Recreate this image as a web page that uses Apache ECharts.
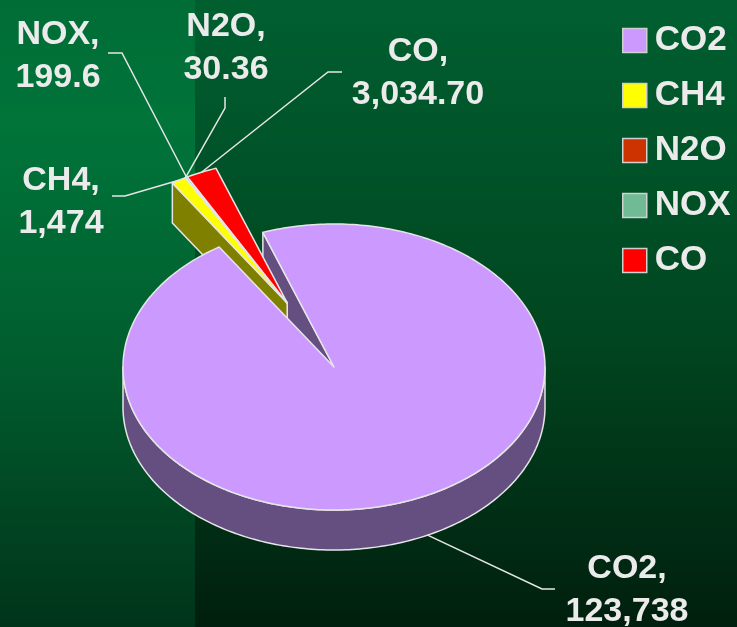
<!DOCTYPE html>
<html><head><meta charset="utf-8">
<script src="https://cdn.jsdelivr.net/npm/echarts@6/dist/echarts.min.js"></script>
<style>
html,body{margin:0;padding:0;background:#002a14;}
#c{width:737px;height:627px;
background:
 linear-gradient(to bottom,#006d36 0%,#00743a 20%,#005f2f 55%,#00341a 100%) 0 0/195px 100% no-repeat,
 linear-gradient(to bottom,#005f30 0%,#00451f 55%,#001f0e 100%);}
</style>
</head><body><div id="c"></div>
<script>
// ---- data ----
const categories = ['CO2', 'CH4', 'N2O', 'NOX', 'CO'];
const values = [123738, 1474, 30.36, 199.6, 3034.70];
const valueLabels = ['123,738', '1,474', '30.36', '199.6', '3,034.70'];

// ---- style / layout ----
const topColors = ['#cc99ff', '#ffff00', '#cc3300', '#70ba96', '#ff0000'];
const sideColors = ['#644f80', '#808000', '#800000', '#385d4b', '#800000'];
const explode = [0, 0.5, 0.5, 0.5, 0.5];
const PIE = {cx: 334, cy: 367, rx: 211, ry: 143, depth: 40, startDeg: 109.7};
const labelLayout = [
  {x: 627, y: 547, path: [[555, 589], [542, 589]], end: 'bottom'},
  {x: 61, y: 159, path: [[112, 196], [125, 196]], end: 'top'},
  {x: 226, y: 5, path: [[225, 97], [225, 108]], end: 'top'},
  {x: 58, y: 13, path: [[108, 53], [122, 53]], end: 'top'},
  {x: 418, y: 30, path: [[342, 72], [328, 72]], end: 'top'}
];
const TEXT_COLOR = '#ebebeb';
const EDGE = '#e6e6e6';

const total = values.reduce((a, b) => a + b, 0);
const spans = [];
(function () {
  let a = PIE.startDeg;
  values.forEach(v => { const s = v / total * 360; spans.push([a, a - s]); a -= s; });
})();
// exploded slices move together along the bisector of their group
const exIdx = explode.map((e, i) => e > 0 ? i : -1).filter(i => i >= 0);
const groupMid = (spans[exIdx[0]][0] + spans[exIdx[exIdx.length - 1]][1]) / 2;

const rad = d => d * Math.PI / 180;
function P(deg, r, off, h) {
  return [PIE.cx + off[0] + r * PIE.rx * Math.cos(rad(deg)),
          PIE.cy + off[1] - r * PIE.ry * Math.sin(rad(deg)) + h];
}
function arc(a0, a1, off, h) {
  const pts = [];
  const n = Math.max(2, Math.ceil(Math.abs(a0 - a1)));
  for (let k = 0; k <= n; k++) pts.push(P(a0 + (a1 - a0) * k / n, 1, off, h));
  return pts;
}

function renderSlice(i) {
  const [a0, a1] = spans[i];
  const mid = (a0 + a1) / 2;
  const dir = explode[i] > 0 ? groupMid : mid;
  const off = [explode[i] * PIE.rx * Math.cos(rad(dir)), -explode[i] * PIE.ry * Math.sin(rad(dir))];
  const c = [PIE.cx + off[0], PIE.cy + off[1]];
  const cb = [c[0], c[1] + PIE.depth];
  const isMain = explode[i] === 0;
  // faces further to the left (larger angle) are nearer to the viewer here
  const zSide = isMain ? 1 : 2 + ((a0 % 360) + 360) % 360 / 1000;
  const zTop = isMain ? 4 : 3;
  const children = [];
  const lineStyle = {stroke: EDGE, lineWidth: 1.5, lineJoin: 'round'};
  // radial faces
  if (Math.cos(rad(a0)) < 0) {
    children.push({type: 'polygon', z2: zSide,
      shape: {points: [c, P(a0, 1, off, 0), P(a0, 1, off, PIE.depth), cb]},
      style: Object.assign({fill: sideColors[i]}, lineStyle)});
  }
  if (Math.cos(rad(a1)) > 0) {
    children.push({type: 'polygon', z2: zSide,
      shape: {points: [c, P(a1, 1, off, 0), P(a1, 1, off, PIE.depth), cb]},
      style: Object.assign({fill: sideColors[i]}, lineStyle)});
  }
  // outer front wall
  for (let k = -2; k <= 1; k++) {
    const f0 = 360 * k, f1 = 360 * k - 180;
    const hi = Math.min(a0, f0), lo = Math.max(a1, f1);
    if (hi > lo) {
      const topPts = arc(hi, lo, off, 0);
      const botPts = arc(lo, hi, off, PIE.depth);
      children.push({type: 'polygon', z2: zSide,
        shape: {points: topPts.concat(botPts)},
        style: Object.assign({fill: sideColors[i]}, lineStyle)});
    }
  }
  // top face
  children.push({type: 'polygon', z2: zTop,
    shape: {points: [c].concat(arc(a0, a1, off, 0))},
    style: Object.assign({fill: topColors[i]}, lineStyle)});
  // leader line
  const L = labelLayout[i];
  const endPt = P(mid, 1, off, L.end === 'bottom' ? PIE.depth : 0);
  children.push({type: 'polyline', z2: 5,
    shape: {points: [L.path[0], L.path[1], endPt]},
    style: {stroke: EDGE, lineWidth: 1.5, fill: null}});
  // label
  children.push({type: 'text', z2: 6,
    style: {text: categories[i] + ',\n' + valueLabels[i], x: L.x, y: L.y,
      fill: TEXT_COLOR, fontSize: 34, fontWeight: 'bold',
      fontFamily: 'Liberation Sans, Arial, sans-serif',
      align: 'center', verticalAlign: 'top', lineHeight: 43}});
  return {type: 'group', children: children};
}

const series = categories.map((name, i) => ({
  type: 'custom',
  name: name,
  coordinateSystem: 'none',
  itemStyle: {color: topColors[i]},
  data: [values[i]],
  renderItem: () => renderSlice(i),
  silent: true
}));

const chart = echarts.init(document.getElementById('c'), null, {renderer: 'canvas'});
chart.setOption({
  backgroundColor: 'transparent',
  animation: false,
  legend: {
    orient: 'vertical',
    left: 617, top: 18,
    itemWidth: 24, itemHeight: 24, itemGap: 20,
    icon: 'rect',
    itemStyle: {borderColor: '#d0d0d0', borderWidth: 1.5},
    textStyle: {color: TEXT_COLOR, fontSize: 35, fontWeight: 'bold',
      fontFamily: 'Liberation Sans, Arial, sans-serif', lineHeight: 34, padding: [0, 0, 0, 3]},
    data: categories
  },
  series: series
});
</script>
</body></html>
